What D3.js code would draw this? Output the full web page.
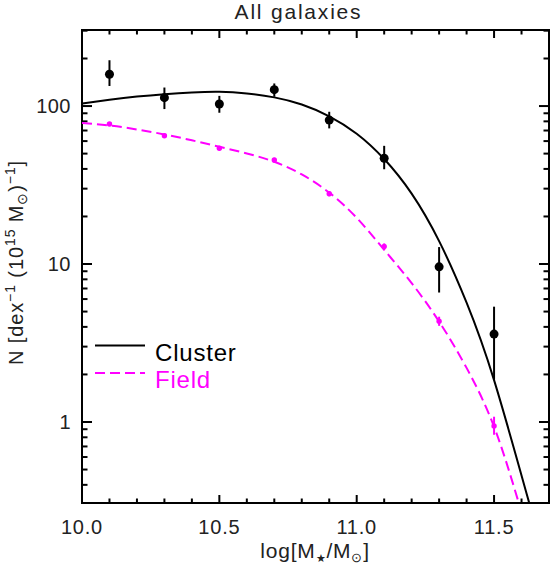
<!DOCTYPE html>
<html><head><meta charset="utf-8">
<script src="https://cdn.jsdelivr.net/npm/d3@7"></script>
<style>
html,body{margin:0;padding:0;background:#fff;}
svg{display:block;font-family:"Liberation Sans",Arial,sans-serif;}
</style></head>
<body>
<svg id="chart" width="551" height="564"></svg>
<script>
// ---- data ----
const massBins = [10.1, 10.3, 10.5, 10.7, 10.9, 11.1, 11.3, 11.5];
const clusterN = [159, 113, 103, 127, 81.5, 46.7, 9.6, 3.6];
const clusterHi = [195, 131, 116, 139, 92, 56, 12.8, 5.37];
const clusterLo = [134, 95.7, 90.7, 114.5, 72.2, 39.8, 6.6, 1.85];
const fieldN = [77, 64.9, 54.0, 45.5, 27.9, 12.9, 4.35, 0.944];
const fieldHi = [79, 66.5, 55.5, 47, 29, 13.5, 4.64, 1.08];
const fieldLo = [75, 63.3, 52.5, 44, 26.8, 12.3, 4.06, 0.83];

const fitX = [10.0, 10.1, 10.2, 10.3, 10.4, 10.5, 10.6, 10.7, 10.8, 10.9, 11.0, 11.1, 11.2, 11.3, 11.4, 11.5];
const clusterFitY = [103.8, 109.6, 114.8, 118.9, 121.9, 123.0, 120.2, 113.5, 102.3, 86.1, 66.8, 46.2, 27.9, 13.96, 5.69, 1.84];
const clusterFitEnd = [11.628, 0.307];
const fieldFitY = [78.0, 75.3, 71.1, 66.1, 60.7, 55.2, 50.1, 44.4, 36.9, 28.3, 19.6, 12.3, 7.57, 4.32, 2.20, 0.933];
const fieldFitEnd = [11.59, 0.307];

const xMajorTicks = [10.0, 10.5, 11.0, 11.5];
const yMajorTicks = [1, 10, 100];
const legendLabels = ["Cluster", "Field"];
const titleText = "All galaxies";

// ---- layout ----
const L = 82, R = 549, T = 30, B = 503;
const svg = d3.select("#chart");
const x = d3.scaleLinear().domain([10.0, 11.7]).range([L, R]);
const y = d3.scaleLog().domain([0.307, 303]).range([B, T]);
const MAG = "#ff00ff";
const TXT = "#222";

svg.append("defs").append("clipPath").attr("id", "clip")
  .append("rect").attr("x", L).attr("y", T).attr("width", R - L).attr("height", B - T);

// minor ticks
const xMinor = d3.range(10.0, 11.70001, 0.1).map(v => +v.toFixed(2));
const yMinor = [];
[0.1, 1, 10, 100].forEach(d => { for (let k = 2; k <= 9; k++) { const v = d * k; if (v >= 0.307 && v <= 303) yMinor.push(v); } });

const ax = svg.append("g").attr("stroke", "#000").attr("stroke-width", 2);
xMinor.forEach(v => {
  const isMaj = xMajorTicks.some(m => Math.abs(m - v) < 1e-6);
  const len = isMaj ? 8 : 4.5;
  ax.append("line").attr("x1", x(v)).attr("x2", x(v)).attr("y1", B).attr("y2", B - len);
  ax.append("line").attr("x1", x(v)).attr("x2", x(v)).attr("y1", T).attr("y2", T + len);
});
yMinor.concat(yMajorTicks).forEach(v => {
  const isMaj = yMajorTicks.includes(v);
  const len = isMaj ? 10 : 5.5;
  ax.append("line").attr("x1", L).attr("x2", L + len).attr("y1", y(v)).attr("y2", y(v));
  ax.append("line").attr("x1", R).attr("x2", R - len).attr("y1", y(v)).attr("y2", y(v));
});
svg.append("rect").attr("x", L).attr("y", T).attr("width", R - L).attr("height", B - T)
  .attr("fill", "none").attr("stroke", "#000").attr("stroke-width", 2);

// tick labels
svg.append("g").selectAll("text").data(xMajorTicks).join("text")
  .attr("x", d => x(d)).attr("y", 534).attr("text-anchor", "middle")
  .attr("font-size", 20).attr("letter-spacing", 0.8).attr("fill", TXT).text(d => d.toFixed(1));
svg.append("g").selectAll("text").data(yMajorTicks).join("text")
  .attr("x", 71).attr("y", d => y(d) + 7).attr("text-anchor", "end")
  .attr("font-size", 20).attr("letter-spacing", 0.5).attr("fill", TXT).text(d => d);

// title
svg.append("text").attr("x", 298.5).attr("y", 19).attr("text-anchor", "middle")
  .attr("font-size", 21).attr("letter-spacing", 1.8).attr("fill", TXT).text(titleText);

// x label
const xl = svg.append("text").attr("x", 315).attr("y", 558).attr("text-anchor", "middle")
  .attr("font-size", 21).attr("letter-spacing", 0.8).attr("fill", TXT);
xl.append("tspan").text("log[M");
xl.append("tspan").attr("font-size", 11).attr("dy", 4).text("★");
xl.append("tspan").attr("dy", -4).text("/M");
xl.append("tspan").attr("font-size", 13).attr("dy", 4).text("⊙");
xl.append("tspan").attr("dy", -4).text("]");

// y label
const yl = svg.append("text").attr("transform", "translate(23," + ((T + B) / 2 - 4) + ") rotate(-90)")
  .attr("text-anchor", "middle").attr("font-size", 20).attr("letter-spacing", 0.9).attr("fill", TXT);
yl.append("tspan").text("N [dex");
yl.append("tspan").attr("font-size", 14).attr("dy", -8).text("−1");
yl.append("tspan").attr("dy", 8).text(" (10");
yl.append("tspan").attr("font-size", 14).attr("dy", -8).text("15");
yl.append("tspan").attr("dy", 8).text(" M");
yl.append("tspan").attr("font-size", 14).attr("dy", 4).text("⊙");
yl.append("tspan").attr("dy", -4).text(")");
yl.append("tspan").attr("font-size", 14).attr("dy", -8).text("−1");
yl.append("tspan").attr("dy", 8).text("]");

// curves
const plot = svg.append("g").attr("clip-path", "url(#clip)");
const line = d3.line().x(d => x(d[0])).y(d => y(d[1])).curve(d3.curveNatural);
plot.append("path").datum(fitX.map((v, i) => [v, clusterFitY[i]]).concat([clusterFitEnd]))
  .attr("d", line).attr("fill", "none").attr("stroke", "#000").attr("stroke-width", 2);
plot.append("path").datum(fitX.map((v, i) => [v, fieldFitY[i]]).concat([fieldFitEnd]))
  .attr("d", line).attr("fill", "none").attr("stroke", MAG).attr("stroke-width", 2)
  .attr("stroke-dasharray", "10,5");

// error bars and points
massBins.forEach((m, i) => {
  plot.append("line").attr("x1", x(m)).attr("x2", x(m)).attr("y1", y(clusterHi[i])).attr("y2", y(clusterLo[i]))
    .attr("stroke", "#000").attr("stroke-width", 2);
  plot.append("circle").attr("cx", x(m)).attr("cy", y(clusterN[i])).attr("r", 4.5).attr("fill", "#000");
  plot.append("line").attr("x1", x(m)).attr("x2", x(m)).attr("y1", y(fieldHi[i])).attr("y2", y(fieldLo[i]))
    .attr("stroke", MAG).attr("stroke-width", 2);
  plot.append("circle").attr("cx", x(m)).attr("cy", y(fieldN[i])).attr("r", 2.7).attr("fill", MAG);
});

// legend
svg.append("line").attr("x1", 95).attr("x2", 145).attr("y1", 345.5).attr("y2", 345.5)
  .attr("stroke", "#000").attr("stroke-width", 2);
svg.append("line").attr("x1", 95).attr("x2", 145).attr("y1", 373).attr("y2", 373)
  .attr("stroke", MAG).attr("stroke-width", 2).attr("stroke-dasharray", "10,5");
svg.append("text").attr("x", 155).attr("y", 361).attr("font-size", 24).attr("letter-spacing", 0.8).attr("fill", "#000").text(legendLabels[0]);
svg.append("text").attr("x", 155).attr("y", 388).attr("font-size", 24).attr("letter-spacing", 0.8).attr("fill", MAG).text(legendLabels[1]);
</script>
</body></html>
